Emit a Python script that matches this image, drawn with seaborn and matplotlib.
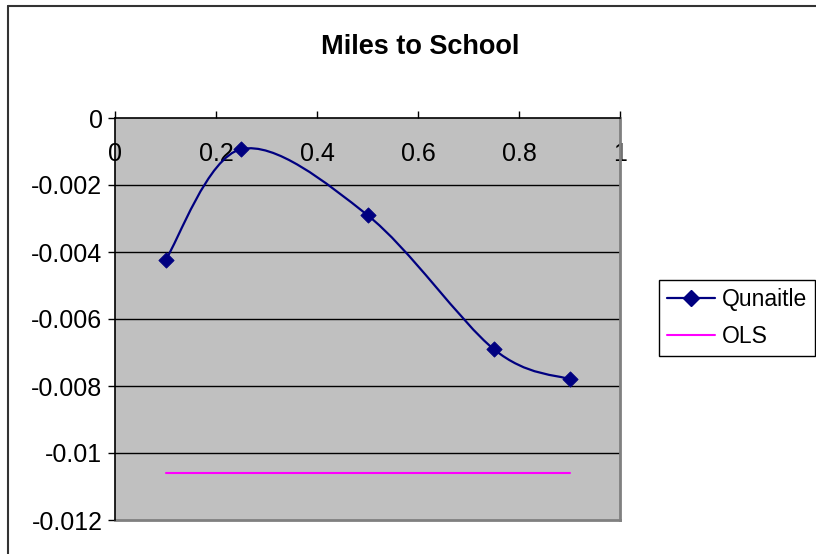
import matplotlib
matplotlib.use("Agg")
import matplotlib.pyplot as plt
import seaborn as sns
import pandas as pd
import numpy as np
from matplotlib.path import Path
from matplotlib.patches import PathPatch
from matplotlib.lines import Line2D

# data
quantiles = [0.1, 0.25, 0.5, 0.75, 0.9]
quantile_coef = [-0.00424, -0.00093, -0.0029, -0.0069, -0.0078]
ols_coef = [-0.0106, -0.0106, -0.0106, -0.0106, -0.0106]
xtick_vals = [0, 0.2, 0.4, 0.6, 0.8, 1]
xtick_labels = ["0", "0.2", "0.4", "0.6", "0.8", "1"]
ytick_vals = [0, -0.002, -0.004, -0.006, -0.008, -0.01, -0.012]
ytick_labels = ["0", "-0.002", "-0.004", "-0.006", "-0.008", "-0.01", "-0.012"]

NAVY = "#000080"
MAGENTA = "#FF00FF"


def smooth_path(xs, ys):
    """Excel-like smoothed line: cubic Bezier through the points (Catmull-Rom, 1/6)."""
    pts = np.column_stack([xs, ys])
    verts = [pts[0]]
    codes = [Path.MOVETO]
    n = len(pts)
    for i in range(n - 1):
        p0 = pts[i - 1] if i > 0 else pts[i]
        p1 = pts[i]
        p2 = pts[i + 1]
        p3 = pts[i + 2] if i + 2 < n else pts[i + 1]
        c1 = p1 + (p2 - p0) / 6.0
        c2 = p2 - (p3 - p1) / 6.0
        verts += [c1, c2, p2]
        codes += [Path.CURVE4] * 3
    return Path(verts, codes)


df = pd.DataFrame({"quantile": quantiles, "Qunaitle": quantile_coef, "OLS": ols_coef})

sns.set_style("white")
plt.rcParams["font.family"] = ["Liberation Sans", "DejaVu Sans"]
plt.rcParams["axes.unicode_minus"] = False
plt.rcParams["text.color"] = "black"
plt.rcParams["xtick.color"] = "black"
plt.rcParams["ytick.color"] = "black"

fig = plt.figure(figsize=(8.16, 5.54), dpi=100)
ax = fig.add_axes([115 / 816, 1 - 520 / 554, 505 / 816, 402 / 554])
ax.set_facecolor("#C0C0C0")

# horizontal gridlines
for v in ytick_vals[1:-1]:
    ax.axhline(v, color="black", lw=1, zorder=1)

# OLS line
sns.lineplot(data=df, x="quantile", y="OLS", ax=ax, color=MAGENTA, lw=1.5, zorder=3)

# smoothed quantile line + markers
ax.add_patch(PathPatch(smooth_path(df["quantile"], df["Qunaitle"]),
                       facecolor="none", edgecolor=NAVY, lw=1.6, zorder=4))
sns.scatterplot(data=df, x="quantile", y="Qunaitle", ax=ax, marker="D", s=60,
                color=NAVY, edgecolor=NAVY, zorder=5)

ax.set_xlim(0, 1)
ax.set_ylim(-0.012, 0)
ax.set_xlabel("")
ax.set_ylabel("")

ax.set_xticks(xtick_vals)
ax.set_xticklabels(xtick_labels)
ax.set_yticks(ytick_vals)
ax.set_yticklabels(ytick_labels)

ax.tick_params(axis="x", top=True, bottom=False, labeltop=True, labelbottom=False,
               direction="out", length=5, width=1, labelsize=18, pad=-22)
for lab in ax.get_xticklabels():
    lab.set_va("top")
ax.tick_params(axis="y", left=True, direction="out", length=5, width=1,
               labelsize=18, pad=4)

for side in ["top", "left"]:
    ax.spines[side].set_color("black")
    ax.spines[side].set_linewidth(1.2)
    ax.spines[side].set_zorder(6)
for side in ["right", "bottom"]:
    ax.spines[side].set_color("#808080")
    ax.spines[side].set_linewidth(2)

fig.text(420 / 816, 1 - 54 / 554, "Miles to School", fontsize=19.5,
         fontweight="bold", ha="center", va="baseline", color="black")

handles = [Line2D([0], [0], color=NAVY, lw=1.6, marker="D", markersize=8),
           Line2D([0], [0], color=MAGENTA, lw=1.5)]
leg = fig.legend(handles, ["Qunaitle", "OLS"], loc="upper left",
                 bbox_to_anchor=(659 / 816, 1 - 280 / 554), borderaxespad=0,
                 fontsize=16.5, frameon=True, fancybox=False, framealpha=1,
                 edgecolor="black", handlelength=2.1, handletextpad=0.3,
                 labelspacing=0.6, borderpad=0.35)
leg.get_frame().set_linewidth(1)
for t in leg.get_texts():
    t.set_color("black")

# outer chart border (top and left edges visible)
fig.add_artist(Line2D([8 / 816, 8 / 816], [0, 1 - 6 / 554], color="#333333", lw=1.5,
                      transform=fig.transFigure))
fig.add_artist(Line2D([8 / 816, 1], [1 - 6 / 554, 1 - 6 / 554], color="#333333", lw=1.5,
                      transform=fig.transFigure))

fig.savefig("out.png", dpi=100)
